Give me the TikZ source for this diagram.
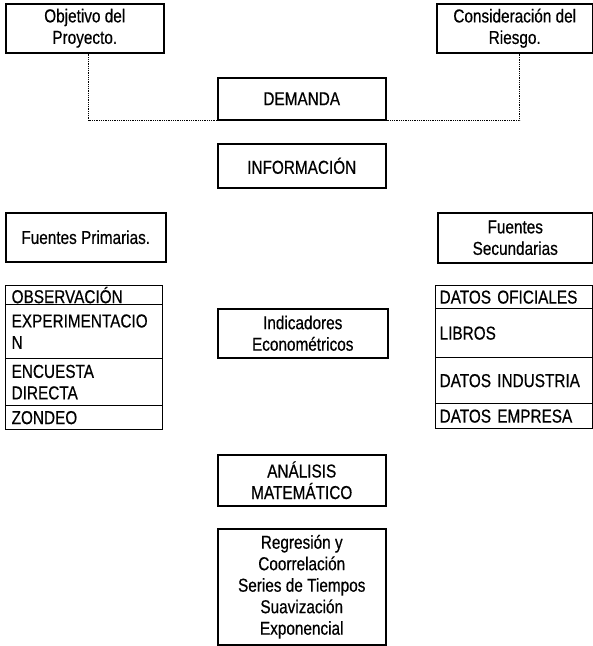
\documentclass[tikz,border=0pt]{standalone}
\usepackage{fontspec}
\setmainfont{Liberation Sans}[FakeStretch=0.82,FakeBold=0.5]
\newcommand\boxfont{\fontsize{18.7}{21.5}\selectfont\spaceskip=4.3pt plus 1pt minus 1pt\relax}
\begin{document}
\begin{tikzpicture}[x=1pt,y=-1pt,
  every node/.style={font=\boxfont},
  box/.style={draw, line width=1.5pt, rectangle, inner sep=0pt, align=center, anchor=north west},
  lrow/.style={draw, line width=1.3pt, rectangle, anchor=north west, inner xsep=6pt, inner ysep=0pt,
    text width=145pt, align=left},
  rrow/.style={draw, line width=1.3pt, rectangle, anchor=north west, inner xsep=4pt, inner ysep=0pt,
    text width=149pt, align=left},
  link/.style={line width=0.8pt, densely dotted}]
\useasboundingbox (0,0) rectangle (593,646);

% top row
\node[box, minimum width=158, minimum height=49] (obj) at (5,3) {Objetivo del\\Proyecto.};
\node[box, minimum width=156, minimum height=49] (cons) at (436,3) {Consideración del\\Riesgo.};
\node[box, minimum width=168, minimum height=42] (dem) at (217,77) {DEMANDA};
\draw[link] ([xshift=4pt]obj.south) |- (dem.south west);
\draw[link] (dem.south east) -| ([xshift=5pt]cons.south);

% information sources
\node[box, minimum width=168, minimum height=44] (inf) at (217,143) {INFORMACIÓN};
\node[box, minimum width=160, minimum height=49] (fp) at (5,212) {Fuentes Primarias.};
\node[box, minimum width=155, minimum height=50] (fs) at (437,212) {Fuentes\\Secundarias};

% primary sources
\node[lrow, minimum height=19] (obs) at (5,285) {OBSERVACIÓN};
\node[lrow, minimum height=54] (exp) at (5,304) {EXPERIMENTACIO\\N};
\node[lrow, minimum height=47] (enc) at (5,358) {ENCUESTA\\DIRECTA};
\node[lrow, minimum height=24] (zon) at (5,405) {ZONDEO};

% secondary sources
\node[rrow, minimum height=23] (dof) at (435,285) {DATOS OFICIALES};
\node[rrow, minimum height=49] (lib) at (435,308) {LIBROS};
\node[rrow, minimum height=46] (din) at (435,357) {DATOS INDUSTRIA};
\node[rrow, minimum height=25] (dem2) at (435,403) {DATOS EMPRESA};

% analysis
\node[box, minimum width=170, minimum height=49] (ind) at (217,308) {Indicadores\\Econométricos};
\node[box, minimum width=168, minimum height=51] (ana) at (217,454) {ANÁLISIS\\MATEMÁTICO};
\node[box, minimum width=168, minimum height=116] (reg) at (217,528)
  {Regresión y\\Coorrelación\\Series de Tiempos\\Suavización\\Exponencial};
\end{tikzpicture}
\end{document}
